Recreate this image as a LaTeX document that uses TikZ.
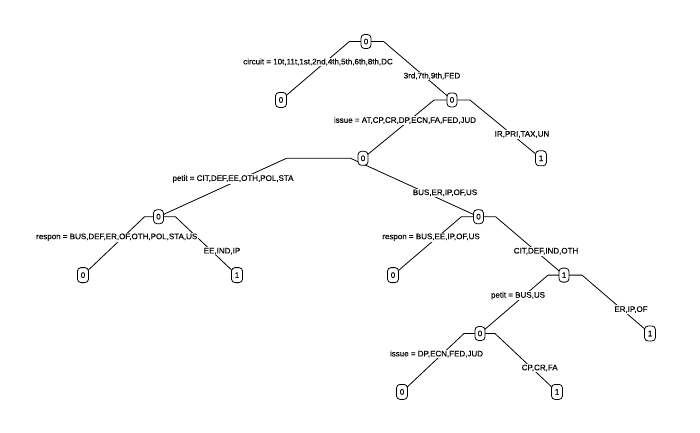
\documentclass[tikz,border=0pt]{standalone}
\usepackage{fontspec}
\setmainfont{Liberation Sans}[FakeBold=0.35]
\usetikzlibrary{calc,backgrounds}

% branch of a split node: left child, stub, horizontal bar through the parent, stub, right child
\newcommand\treebranch[3]{%
  \coordinate (#1-a) at ($(#2.center)!0.4!(#3.center)$);
  \coordinate (#1-b) at ($(#3.center)!0.4!(#2.center)$);
  \begin{pgfonlayer}{background}
    \draw[edge] (#2.center) -- (#1-a |- #1.center) -- (#1-b |- #1.center) -- (#3.center);
  \end{pgfonlayer}
}

\begin{document}
\begin{tikzpicture}[x=1pt,y=-1pt,
  txt/.style={font=\fontsize{8}{9.6}\selectfont},
  split/.style={txt,draw,fill=white,line width=0.8pt,rounded corners=3.5pt,
    minimum width=10pt,minimum height=14pt,inner sep=0pt},
  leaf/.style={split,minimum width=11pt,minimum height=15pt},
  lab/.style={txt,fill=white,inner sep=1pt},
  edge/.style={line width=0.8pt}]
\useasboundingbox (0,0) rectangle (700,432);

% nodes
\node[split] (n1)   at (366,41.5)   {0};
\node[leaf]  (n2)   at (281,99.9)   {0};
\node[split] (n3)   at (452,99.9)   {0};
\node[split] (n6)   at (363,158.3)  {0};
\node[leaf]  (n7)   at (541,158.3)  {1};
\node[split] (n12)  at (158.5,216.7){0};
\node[split] (n13)  at (478.5,216.7){0};
\node[leaf]  (n24)  at (83,275.1)   {0};
\node[leaf]  (n25)  at (237,275.1)  {1};
\node[leaf]  (n26)  at (393,275.1)  {0};
\node[split] (n27)  at (564,275.1)  {1};
\node[split] (n54)  at (480,333.5)  {0};
\node[leaf]  (n55)  at (650,333.5)  {1};
\node[leaf]  (n108) at (402,391.9)  {0};
\node[leaf]  (n109) at (557,391.9)  {1};

% branches
\treebranch{n1}{n2}{n3}
\treebranch{n3}{n6}{n7}
\treebranch{n6}{n12}{n13}
\treebranch{n12}{n24}{n25}
\treebranch{n13}{n26}{n27}
\treebranch{n27}{n54}{n55}
\treebranch{n54}{n108}{n109}

% split labels
\node[lab] (s1l)  at (318,62)     {circuit = 10t,11t,1st,2nd,4th,5th,6th,8th,DC};
\node[lab] (s1r)  at (432,76)     {3rd,7th,9th,FED};
\node[lab] (s3l)  at (405,120.4)  {issue = AT,CP,CR,DP,ECN,FA,FED,JUD};
\node[lab] (s3r)  at (522,134.4)  {IR,PRI,TAX,UN};
\node[lab] (s6l)  at (233,178.8)  {petit = CIT,DEF,EE,OTH,POL,STA};
\node[lab] (s6r)  at (445,192.8)  {BUS,ER,IP,OF,US};
\node[lab] (s12l) at (116.7,237.2){respon = BUS,DEF,ER,OF,OTH,POL,STA,US};
\node[lab] (s12r) at (222,251.2)  {EE,IND,IP};
\node[lab] (s13l) at (431,237.2)  {respon = BUS,EE,IP,OF,US};
\node[lab] (s13r) at (546,251.2)  {CIT,DEF,IND,OTH};
\node[lab] (s27l) at (518,295.6)  {petit = BUS,US};
\node[lab] (s27r) at (631,309.6)  {ER,IP,OF};
\node[lab] (s54l) at (436.5,354)  {issue = DP,ECN,FED,JUD};
\node[lab] (s54r) at (539.7,368)  {CP,CR,FA};
\end{tikzpicture}
\end{document}
